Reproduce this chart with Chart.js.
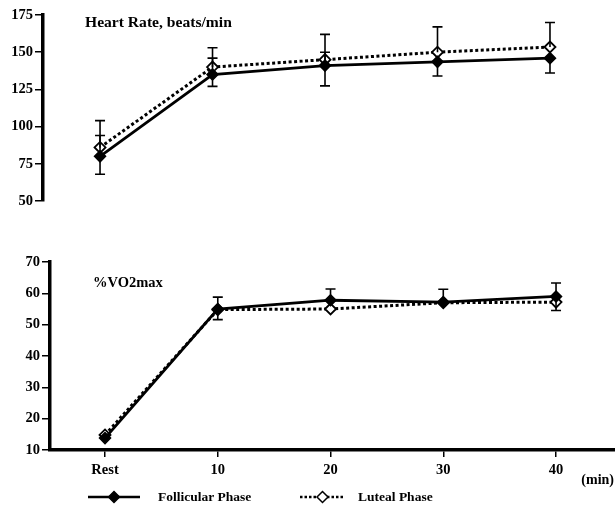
<!DOCTYPE html>
<html>
<head>
<meta charset="utf-8">
<script src="https://cdn.jsdelivr.net/npm/chart.js@4"></script>
<style>
  html, body { margin: 0; padding: 0; background: #fff; width: 615px; height: 511px; overflow: hidden; }
  .box { position: absolute; left: 0; width: 615px; }
  #topBox { top: 0; height: 215px; }
  #botBox { top: 240px; height: 271px; }
</style>
</head>
<body>
<div class="box" id="topBox"><canvas id="hr"></canvas></div>
<div class="box" id="botBox"><canvas id="vo2"></canvas></div>
<script>
// ---- data ----
const categories = ['Rest', '10', '20', '30', '40'];
const times = [0, 10, 20, 30, 40];

const hrFollicular = [80, 135, 141, 143.5, 146];
const hrLuteal = [86, 140, 145, 150, 153.5];
const hrFollicularErrUp = [14, 11, 9, null, null];
const hrFollicularErrDown = [12, 8, 13.6, 9.5, 10];
const hrLutealErrUp = [18, 13, 17, 17, 16.5];
const hrLutealErrDown = [null, null, null, null, null];
const hrTicks = [50, 75, 100, 125, 150, 175];

const voFollicular = [13.8, 55, 57.8, 57.2, 59];
const voLuteal = [14.8, 54.8, 55, 57, 57.2];
const voFollicularErrUp = [null, 3.8, 3.6, 4.1, 4.3];
const voFollicularErrDown = [null, null, null, null, null];
const voLutealErrUp = [null, null, null, null, null];
const voLutealErrDown = [null, 3.2, null, null, 2.7];
const voTicks = [10, 20, 30, 40, 50, 60, 70];

const seriesNames = ['Follicular Phase', 'Luteal Phase'];
const hrTitle = 'Heart Rate, beats/min';
const voTitle = '%VO2max';
const xUnit = '(min)';

// ---- helpers ----
const FONT = '"Liberation Serif", "Times New Roman", serif';
const pts = (vals) => vals.map((v, i) => ({ x: times[i], y: v }));

const errorBars = {
  id: 'errorBars',
  afterDatasetsDraw(chart, args, opts) {
    const ctx = chart.ctx;
    const xs = chart.scales.x, ys = chart.scales.y;
    ctx.save();
    ctx.strokeStyle = '#000';
    ctx.lineWidth = 1.6;
    chart.data.datasets.forEach((ds, di) => {
      const e = opts.errors[di];
      ds.data.forEach((p, i) => {
        const px = xs.getPixelForValue(p.x);
        const py = ys.getPixelForValue(p.y);
        [[e.up[i], 1], [e.down[i], -1]].forEach(([err, dir]) => {
          if (err == null) return;
          const ey = ys.getPixelForValue(p.y + dir * err);
          ctx.beginPath();
          ctx.moveTo(px, py);
          ctx.lineTo(px, ey);
          ctx.moveTo(px - 5, ey);
          ctx.lineTo(px + 5, ey);
          ctx.stroke();
        });
      });
    });
    ctx.restore();
  }
};

const labels = {
  id: 'labels',
  afterDraw(chart, args, opts) {
    const ctx = chart.ctx;
    ctx.save();
    ctx.fillStyle = '#000';
    ctx.textBaseline = 'middle';
    (opts.texts || []).forEach(t => {
      ctx.font = t.font;
      ctx.textAlign = t.align || 'left';
      ctx.fillText(t.text, t.x, t.y);
    });
    (opts.legend || []).forEach(l => {
      ctx.strokeStyle = '#000';
      ctx.lineWidth = l.lw;
      ctx.setLineDash(l.dash);
      ctx.beginPath();
      ctx.moveTo(l.x0, l.y);
      ctx.lineTo(l.x1, l.y);
      ctx.stroke();
      ctx.setLineDash([]);
      const cx = (l.x0 + l.x1) / 2, r = 5.5;
      ctx.beginPath();
      ctx.moveTo(cx - r, l.y); ctx.lineTo(cx, l.y - r); ctx.lineTo(cx + r, l.y); ctx.lineTo(cx, l.y + r); ctx.closePath();
      ctx.fillStyle = l.fill;
      ctx.fill();
      ctx.lineWidth = 1.5;
      ctx.stroke();
      ctx.fillStyle = '#000';
      ctx.font = 'bold 13.5px ' + FONT;
      ctx.textAlign = 'left';
      ctx.fillText(l.text, l.tx, l.y + 1);
    });
    ctx.restore();
  }
};

function datasets(f, l) {
  return [
    { label: seriesNames[0], data: pts(f), borderColor: '#000', borderWidth: 2.8,
      pointStyle: 'rectRot', pointRadius: 5.5, pointBackgroundColor: '#000', pointBorderColor: '#000',
      pointBorderWidth: 1.5, tension: 0, order: 1 },
    { label: seriesNames[1], data: pts(l), borderColor: '#000', borderWidth: 3, borderDash: [3, 2.5],
      pointStyle: 'rectRot', pointRadius: 5.5, pointBackgroundColor: '#fff', pointBorderColor: '#000',
      pointBorderWidth: 1.8, tension: 0, order: 2 }
  ];
}

function yScale(min, max, ticks, width) {
  return {
    type: 'linear', min, max,
    afterBuildTicks: s => { s.ticks = ticks.map(v => ({ value: v })); },
    afterFit: s => { s.width = width; },
    border: { display: true, color: '#000', width: 3.5 },
    grid: { display: true, drawOnChartArea: false, drawTicks: true, tickLength: 8, color: '#000', lineWidth: 1.5 },
    ticks: { color: '#000', padding: 2, font: { family: FONT, size: 14.5, weight: 'bold' } }
  };
}

Chart.defaults.animation = false;
Chart.defaults.responsive = true;
Chart.defaults.maintainAspectRatio = false;

// ---- top chart: heart rate ----
new Chart(document.getElementById('hr'), {
  type: 'line',
  data: { datasets: datasets(hrFollicular, hrLuteal) },
  options: {
    layout: { autoPadding: false, padding: { top: 15, bottom: 14, left: 0, right: 0 } },
    plugins: {
      legend: { display: false }, tooltip: { enabled: false },
      errorBars: { errors: [ { up: hrFollicularErrUp, down: hrFollicularErrDown }, { up: hrLutealErrUp, down: hrLutealErrDown } ] },
      labels: { texts: [ { text: hrTitle, x: 85, y: 23, font: 'bold 15.6px ' + FONT } ] }
    },
    scales: {
      x: { type: 'linear', display: false, min: -5.07, max: 45.78 },
      y: yScale(50, 175, hrTicks, 43)
    }
  },
  plugins: [errorBars, labels]
});

// ---- bottom chart: %VO2max ----
new Chart(document.getElementById('vo2'), {
  type: 'line',
  data: { datasets: datasets(voFollicular, voLuteal) },
  options: {
    layout: { autoPadding: false, padding: { top: 22, bottom: 0, left: 0, right: 0 } },
    plugins: {
      legend: { display: false }, tooltip: { enabled: false },
      errorBars: { errors: [ { up: voFollicularErrUp, down: voFollicularErrDown }, { up: voLutealErrUp, down: voLutealErrDown } ] },
      labels: {
        texts: [
          { text: voTitle, x: 93, y: 43, font: 'bold 14.5px ' + FONT },
          { text: xUnit, x: 614, y: 240, font: 'bold 14px ' + FONT, align: 'right' }
        ],
        legend: [
          { x0: 88, x1: 140, y: 257, lw: 2.6, dash: [], fill: '#000', text: seriesNames[0], tx: 158 },
          { x0: 300, x1: 345, y: 257, lw: 2.4, dash: [2.5, 2], fill: '#fff', text: seriesNames[1], tx: 358 }
        ]
      }
    },
    scales: {
      x: {
        type: 'linear', min: -4.88, max: 45.23,
        afterBuildTicks: s => { s.ticks = times.map(v => ({ value: v })); },
        afterFit: s => { s.height = 61; },
        border: { display: true, color: '#000', width: 3.5 },
        grid: { display: true, drawOnChartArea: false, drawTicks: true, tickLength: 7, color: '#000', lineWidth: 1.5 },
        ticks: { color: '#000', padding: 5, maxRotation: 0, autoSkip: false,
          font: { family: FONT, size: 14.5, weight: 'bold' },
          callback: (v) => categories[times.indexOf(v)] }
      },
      y: yScale(10, 70, voTicks, 50)
    }
  },
  plugins: [errorBars, labels]
});
</script>
</body>
</html>
